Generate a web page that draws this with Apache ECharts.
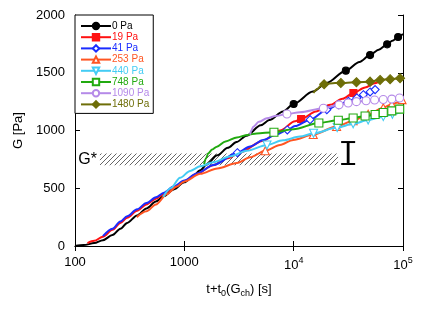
<!DOCTYPE html>
<html><head><meta charset="utf-8">
<script src="https://cdn.jsdelivr.net/npm/echarts@6/dist/echarts.min.js"></script>
<style>html,body{margin:0;padding:0;background:#fff}#c{width:436px;height:309px}</style>
</head><body><div id="c"></div>
<script>
// ---- data (t [s], G [Pa]) ----
const names = ['0 Pa','19 Pa','41 Pa','253 Pa','440 Pa','748 Pa','1090 Pa','1480 Pa'];
const curve0 = [[100,0],[120,8],[150,25],[180,50],[220,95],[260,150],[300,200],[370,265],[450,325],[550,385],[650,432],[800,490],[1000,552],[1200,605],[1400,655],[1600,705],[2000,785],[2500,850],[3000,900],[3700,955],[5000,1045],[6000,1090],[8000,1165],[15000,1337],[20000,1412],[40000,1594],[60000,1700],[80000,1776],[100000,1835]];
const marks0 = [[10000,1230],[30000,1518],[50000,1653],[71600,1746],[90200,1810]];
const curve1 = [[130,25],[150,45],[180,80],[220,140],[260,200],[300,245],[370,305],[450,360],[550,410],[650,450],[800,505],[1000,560],[1300,625],[1840,700],[2500,760],[3235,810],[5200,910],[7500,1000],[10300,1080],[16000,1165],[21600,1222],[28000,1275],[45000,1372],[55000,1410],[65750,1440]];
const marks1 = [[11700,1100],[35200,1325]];
const curve2 = [[180,85],[220,150],[260,212],[300,258],[370,318],[450,372],[550,422],[650,462],[800,515],[1000,568],[1300,628],[1845,701],[4000,862],[5270,918],[7000,968],[10300,1038]];
const marks2 = [[3055,808],[8750,1005],[14130,1094],[20100,1180],[25600,1224],[31700,1253],[37800,1282],[43400,1310],[50000,1334],[55600,1354]];
const curve3 = [[367,250],[450,300],[550,360],[690,448],[850,515],[1000,558],[1400,625],[2000,672],[3030,718],[4000,768],[7500,875],[9900,918]];
const marks3 = [[5500,825],[15100,965],[24700,1035],[35000,1085],[48000,1140],[66000,1198],[79000,1228],[98000,1267]];
const curve4 = [[642,427],[750,500],[913,590],[1130,650],[1400,690],[1842,725],[2600,775],[3720,825],[8000,915],[11400,947],[100000,1165]];
const marks4 = [[5700,875],[15200,976],[25000,1025],[35000,1058],[48000,1090],[66000,1120],[80000,1140]];
const curve5 = [[1514,710],[1580,760],[1657,803],[1800,835],[1984,860],[2380,905],[3020,940],[3800,962],[4580,975],[9930,1011],[100000,1195]];
const marks5 = [[6600,985],[17000,1065],[25600,1089],[35000,1108],[45000,1125],[55600,1139],[66000,1156],[79000,1170],[93300,1185]];
const curve6 = [[3990,965],[4100,1000],[4270,1033],[4800,1075],[5680,1106],[7000,1128],[11400,1158],[100000,1295]];
const marks6 = [[8680,1143],[18700,1193],[26000,1222],[31500,1238],[37500,1250],[46000,1258],[55000,1264],[66000,1268],[79000,1272],[93000,1282]];
const curve7 = [[15150,1325],[16500,1360],[18070,1395],[23900,1412],[29500,1412],[100000,1455]];
const marks7 = [[19000,1400],[27000,1412],[37500,1418],[50000,1423],[61700,1438],[76200,1444],[94000,1452]];
const bandX = [169, 25500];
const bandY = [700, 800];
const errBar = [[31500, 710, 900]];
const xTicks = [100, 1000, 10000, 100000];
const xTickText = ['100', '1000', '10{sup|4}', '10{sup|5}'];

const curves = [curve0,curve1,curve2,curve3,curve4,curve5,curve6,curve7];
const marks = [marks0,marks1,marks2,marks3,marks4,marks5,marks6,marks7];
const colors = ['#000000','#ff1111','#1a2cff','#ff5522','#44ccf4','#22aa10','#b58ae8','#6e6e08'];
const symbols = ['circle','rect','diamond','triangle','path://M0,0L10,0L5,9Z','rect','circle','diamond'];
const filled = [true,true,false,false,false,false,false,true];
const sizes = [7,7,8,8,8,8,8,9];

const FONT = 'Liberation Sans';

function build(i){
  const pts = curves[i].map(p=>({value:p, symbol:'none'}))
    .concat(marks[i].map(p=>({value:p})));
  pts.sort((a,b)=>a.value[0]-b.value[0]);
  return pts;
}

// hatch pattern
const pc = document.createElement('canvas');
pc.width = 5; pc.height = 5;
const g = pc.getContext('2d');
g.strokeStyle = '#555'; g.lineWidth = 0.9;
g.beginPath(); g.moveTo(-1,6); g.lineTo(6,-1); g.stroke();
g.beginPath(); g.moveTo(-1,1); g.lineTo(1,-1); g.stroke();
g.beginPath(); g.moveTo(4,6); g.lineTo(6,4); g.stroke();

const series = [{
  type:'custom', name:'_err', coordinateSystem:'cartesian2d', silent:true, z:1,
  data: errBar,
  encode:{x:0, y:[1,2]},
  renderItem:(params, api)=>{
    const b = api.coord([api.value(0), api.value(1)]);
    const t = api.coord([api.value(0), api.value(2)]);
    const st = {stroke:'#000', lineWidth:2};
    return {type:'group', children:[
      {type:'line', shape:{x1:b[0], y1:b[1], x2:t[0], y2:t[1]}, style:{stroke:'#000', lineWidth:2.8}},
      {type:'line', shape:{x1:b[0]-7, y1:b[1], x2:b[0]+7, y2:b[1]}, style:st},
      {type:'line', shape:{x1:t[0]-7, y1:t[1], x2:t[0]+7, y2:t[1]}, style:st}
    ]};
  },
  markArea:{
    silent:true,
    itemStyle:{color:{image:pc, repeat:'repeat'}},
    label:{show:true, position:'left', distance:3, formatter:'G*', fontFamily:FONT, fontSize:16, color:'#000'},
    data:[[{coord:[bandX[0], bandY[1]]},{coord:[bandX[1], bandY[0]]}]]
  }
}];
for (let i=0;i<8;i++){
  series.push({
    type:'line', name:names[i], data:build(i), smooth:0.3, smoothMonotone:'x',
    symbol:symbols[i], symbolSize:sizes[i], showAllSymbol:true, z:2+i,
    lineStyle:{color:colors[i], width:2},
    itemStyle:{color: filled[i]?colors[i]:'#ffffff', borderColor:colors[i], borderWidth:1.1},
    emphasis:{disabled:true}, animation:false
  });
}

const axisCommon = {
  axisLine:{show:true, lineStyle:{color:'#000', width:1}},
  axisTick:{show:true, inside:true, length:5, lineStyle:{color:'#000'}},
  splitLine:{show:false}, minorTick:{show:false}
};

const chart = echarts.init(document.getElementById('c'), null, {renderer:'canvas'});
chart.setOption({
  animation:false,
  backgroundColor:'#fff',
  textStyle:{fontFamily:FONT},
  grid:{left:75, right:33, top:15, bottom:63, containLabel:false},
  legend:{
    orient:'vertical', left:75, top:15, padding:[6,4,4,5], itemGap:1.2,
    itemWidth:30, itemHeight:8, borderColor:'#000', borderWidth:1, backgroundColor:'#fff',
    data: names.map((n,i)=>({name:n, textStyle:{color:colors[i]}})),
    textStyle:{fontFamily:FONT, fontSize:10, padding:[0,0,0,-4]}
  },
  xAxis:[Object.assign({
    type:'log', logBase:10, min:100, max:100000, position:'bottom',
    name:'t+t{sub|0}(G{sub|ch}) [s]', nameLocation:'middle', nameGap:34,
    nameTextStyle:{fontFamily:FONT, fontSize:13, color:'#000', rich:{sub:{fontFamily:FONT, fontSize:9, padding:[9,0,0,0]}}},
    axisLabel:{margin:10, fontFamily:FONT, fontSize:13, color:'#000', showMinLabel:true, showMaxLabel:true,
      formatter:v=>{const k=xTicks.findIndex(t=>Math.abs(t-v)/t<1e-6); return k>=0?xTickText[k]:'';},
      rich:{sup:{fontFamily:FONT, fontSize:9, padding:[0,0,9,0]}}}
  }, axisCommon),
  Object.assign({
    type:'log', logBase:10, min:100, max:100000, position:'top', axisLabel:{show:false}
  }, axisCommon)],
  yAxis:[Object.assign({
    type:'value', min:0, max:2000, interval:500, position:'left',
    name:'G [Pa]', nameLocation:'middle', nameGap:37, nameRotate:90,
    nameTextStyle:{fontFamily:FONT, fontSize:13, color:'#000'},
    axisLabel:{margin:10, fontFamily:FONT, fontSize:13, color:'#000', formatter:v=>String(v)}
  }, axisCommon),
  Object.assign({
    type:'value', min:0, max:2000, interval:500, position:'right', axisLabel:{show:false}
  }, axisCommon)],
  series: series
});
</script></body></html>
